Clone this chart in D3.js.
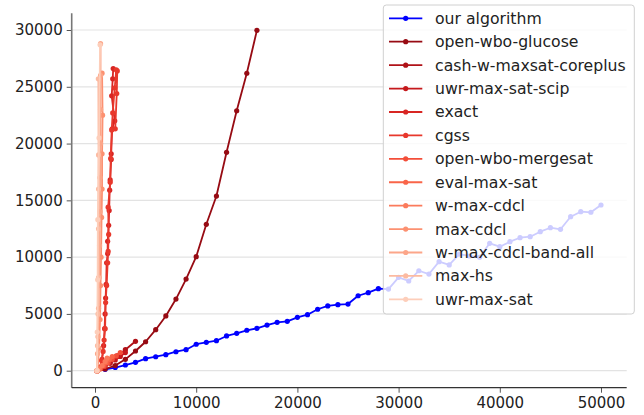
<!DOCTYPE html>
<html>
<head>
<meta charset="utf-8">
<script src="https://cdn.jsdelivr.net/npm/d3@7"></script>
<style>
  html, body { margin: 0; padding: 0; background: #fff; }
  svg { display: block; font-family: "DejaVu Sans", sans-serif; }
</style>
</head>
<body>
<svg id="chart" width="644" height="415"></svg>
<script>
// --- DATA --------------------------------------------------------------------
const seriesNames = [
  'our algorithm', 'open-wbo-glucose', 'cash-w-maxsat-coreplus', 'uwr-max-sat-scip',
  'exact', 'cgss', 'open-wbo-mergesat', 'eval-max-sat', 'w-max-cdcl', 'max-cdcl',
  'w-max-cdcl-band-all', 'max-hs', 'uwr-max-sat'
];

const ourAlgorithm = [
  [1000, 120], [2000, 280], [3000, 500], [4000, 740], [5000, 1060], [6000, 1230],
  [7000, 1410], [8000, 1670], [9000, 1850], [10000, 2330], [11000, 2500], [12000, 2640],
  [13000, 3060], [14000, 3290], [15000, 3560], [16000, 3730], [17000, 4020], [18000, 4260],
  [19000, 4350], [20000, 4700], [21000, 4930], [22000, 5410], [23000, 5700], [24000, 5810],
  [25000, 5870], [26000, 6600], [27000, 6870], [28000, 7220], [29000, 7190], [30000, 8220],
  [31000, 7900], [32000, 8800], [33000, 8510], [34000, 9600], [35000, 9310], [36000, 10270],
  [37000, 10100], [38000, 9990], [39000, 11220], [40000, 10920], [41000, 11360], [42000, 11710],
  [43000, 11800], [44000, 12240], [45000, 12590], [46000, 12450], [47000, 13560], [48000, 14000],
  [49000, 13950], [50000, 14590]
];
const openWboGlucose = [
  [200, 0], [1000, 150], [2000, 450], [3000, 1000], [4000, 1735], [5000, 2550], [6000, 3610],
  [7000, 4820], [8000, 6310], [9000, 8070], [10000, 10040], [11000, 12890], [12000, 15380],
  [13000, 19230], [14000, 22890], [15000, 26190], [16000, 29970]
];
const cashWMaxsatCoreplus = [[200, 0], [800, 350], [1500, 800], [2200, 1300], [3000, 1850], [4000, 2590]];
const uwrMaxSatScip = [[200, 0], [600, 200], [1000, 400], [1500, 650], [2000, 950], [2500, 1250], [3000, 1600]];
const exact = [
  [250, 0], [500, 300], [700, 1000], [850, 2200], [950, 3700], [1000, 5000], [1050, 6400],
  [1100, 7600], [1150, 9500], [1250, 10300], [1250, 11400], [1350, 12800], [1400, 14100],
  [1450, 15900], [1500, 16800], [1600, 18600], [1600, 19100], [1700, 21300], [1950, 22000],
  [1650, 24200], [1750, 25700], [1800, 26600]
];
const cgss = [
  [250, 0], [450, 200], [650, 900], [800, 1700], [900, 2700], [1000, 3700], [1050, 6000],
  [1150, 7500], [1250, 9500], [1300, 10500], [1350, 12000], [1300, 14400], [1500, 16600],
  [1550, 18700], [1650, 21200], [1750, 22700], [1950, 24900], [2100, 26500], [2200, 26400],
  [2150, 24400], [2000, 21300]
];
const openWboMergesat = [[200, 0], [500, 150], [900, 400], [1300, 700], [1700, 1000], [2100, 1300], [2500, 1600]];
const evalMaxSat = [[200, 0], [500, 200], [800, 450], [1100, 700], [1400, 1000], [1700, 1250]];
const wMaxCdcl = [[200, 0], [400, 150], [700, 450], [1000, 800], [1200, 1100]];
const maxCdcl = [
  [250, 0], [400, 2000], [500, 4500], [550, 7500], [600, 10000], [650, 13500], [700, 16000],
  [700, 19100], [750, 22500], [700, 26200]
];
const wMaxCdclBandAll = [
  [200, 0], [250, 1500], [300, 3000], [350, 5500], [400, 8200], [450, 11000], [500, 14000],
  [500, 17000], [550, 20000], [550, 23000], [550, 26000], [550, 28800]
];
const maxHs = [[200, 0], [250, 2200], [300, 5000], [350, 8200], [350, 12500], [350, 16000], [350, 19000], [330, 25700]];
const uwrMaxSat = [[200, 0], [220, 3400], [260, 8000], [280, 13300], [400, 20500], [500, 28700]];

const seriesValues = [
  ourAlgorithm, openWboGlucose, cashWMaxsatCoreplus, uwrMaxSatScip, exact, cgss,
  openWboMergesat, evalMaxSat, wMaxCdcl, maxCdcl, wMaxCdclBandAll, maxHs, uwrMaxSat
];

const xTicks = [0, 10000, 20000, 30000, 40000, 50000];
const yTicks = [0, 5000, 10000, 15000, 20000, 25000, 30000];

// --- LAYOUT ------------------------------------------------------------------
const AX = { left: 71.7, right: 626.7, top: 13.3, bottom: 387.7 };
const FONT_SIZE = 15;
const LINE_W = 1.8;
const DOT_R = 2.6;
const GRID_COL = '#e3e3e3';
const SPINE_COL = '#555';

function seriesColor(i) {
  if (i === 0) return '#0000ff';
  return d3.interpolateReds(0.9 - (i - 1) * 0.065);
}

const svg = d3.select('#chart');

const x = d3.scaleLinear().domain([0, 50000]).range([95, 601]);
const y = d3.scaleLinear().domain([0, 30000]).range([370.7, 30]);

// grid
svg.append('g').selectAll('line')
  .data(yTicks)
  .join('line')
  .attr('x1', AX.left).attr('x2', AX.right)
  .attr('y1', d => y(d)).attr('y2', d => y(d))
  .attr('stroke', GRID_COL).attr('stroke-width', 1.2);

// axes
const yAxis = svg.append('g')
  .attr('transform', `translate(${AX.left},0)`)
  .call(d3.axisLeft(y).tickValues(yTicks).tickFormat(d3.format('d')).tickSize(5).tickPadding(4));
const xAxis = svg.append('g')
  .attr('transform', `translate(0,${AX.bottom})`)
  .call(d3.axisBottom(x).tickValues(xTicks).tickFormat(d3.format('d')).tickSize(5).tickPadding(5));

[yAxis, xAxis].forEach(g => {
  g.select('.domain').remove();
  g.selectAll('.tick line').attr('stroke', SPINE_COL).attr('stroke-width', 1);
  g.selectAll('.tick text').attr('fill', '#222').attr('font-size', FONT_SIZE)
    .attr('font-family', '"DejaVu Sans", sans-serif');
});

svg.append('line').attr('x1', AX.left).attr('x2', AX.left).attr('y1', AX.top).attr('y2', AX.bottom)
  .attr('stroke', '#777').attr('stroke-width', 1.6);
svg.append('line').attr('x1', AX.left).attr('x2', AX.right).attr('y1', AX.bottom).attr('y2', AX.bottom)
  .attr('stroke', '#333').attr('stroke-width', 1.2);

// --- SERIES ------------------------------------------------------------------
const line = d3.line().x(d => x(d[0])).y(d => y(d[1]));
const plot = svg.append('g');

seriesValues.forEach((vals, i) => {
  const col = seriesColor(i);
  const g = plot.append('g');
  g.append('path').datum(vals)
    .attr('d', line).attr('fill', 'none')
    .attr('stroke', col).attr('stroke-width', LINE_W).attr('stroke-linejoin', 'round');
  g.selectAll('circle').data(vals).join('circle')
    .attr('cx', d => x(d[0])).attr('cy', d => y(d[1])).attr('r', DOT_R)
    .attr('fill', col);
});

// --- LEGEND ------------------------------------------------------------------
const LEG = { x: 383.3, y: 5, w: 251, h: 309, row0: 18.3, rowH: 23.42 };
const leg = svg.append('g');
leg.append('rect')
  .attr('x', LEG.x).attr('y', LEG.y).attr('width', LEG.w).attr('height', LEG.h)
  .attr('rx', 3).attr('fill', 'white').attr('fill-opacity', 0.8)
  .attr('stroke', '#d0d0d0').attr('stroke-width', 1);

const rows = leg.selectAll('g.row').data(seriesNames).join('g')
  .attr('class', 'row')
  .attr('transform', (d, i) => `translate(0,${LEG.row0 + i * LEG.rowH})`);
rows.append('line').attr('x1', 389).attr('x2', 422.3).attr('y1', 0).attr('y2', 0)
  .attr('stroke', (d, i) => seriesColor(i)).attr('stroke-width', LINE_W);
rows.append('circle').attr('cx', 405.7).attr('cy', 0).attr('r', DOT_R)
  .attr('fill', (d, i) => seriesColor(i));
rows.append('text').attr('x', 435).attr('y', 0).attr('dy', '0.35em')
  .attr('font-size', FONT_SIZE + 0.7).attr('fill', '#222')
  .text(d => d);
</script>
</body>
</html>
